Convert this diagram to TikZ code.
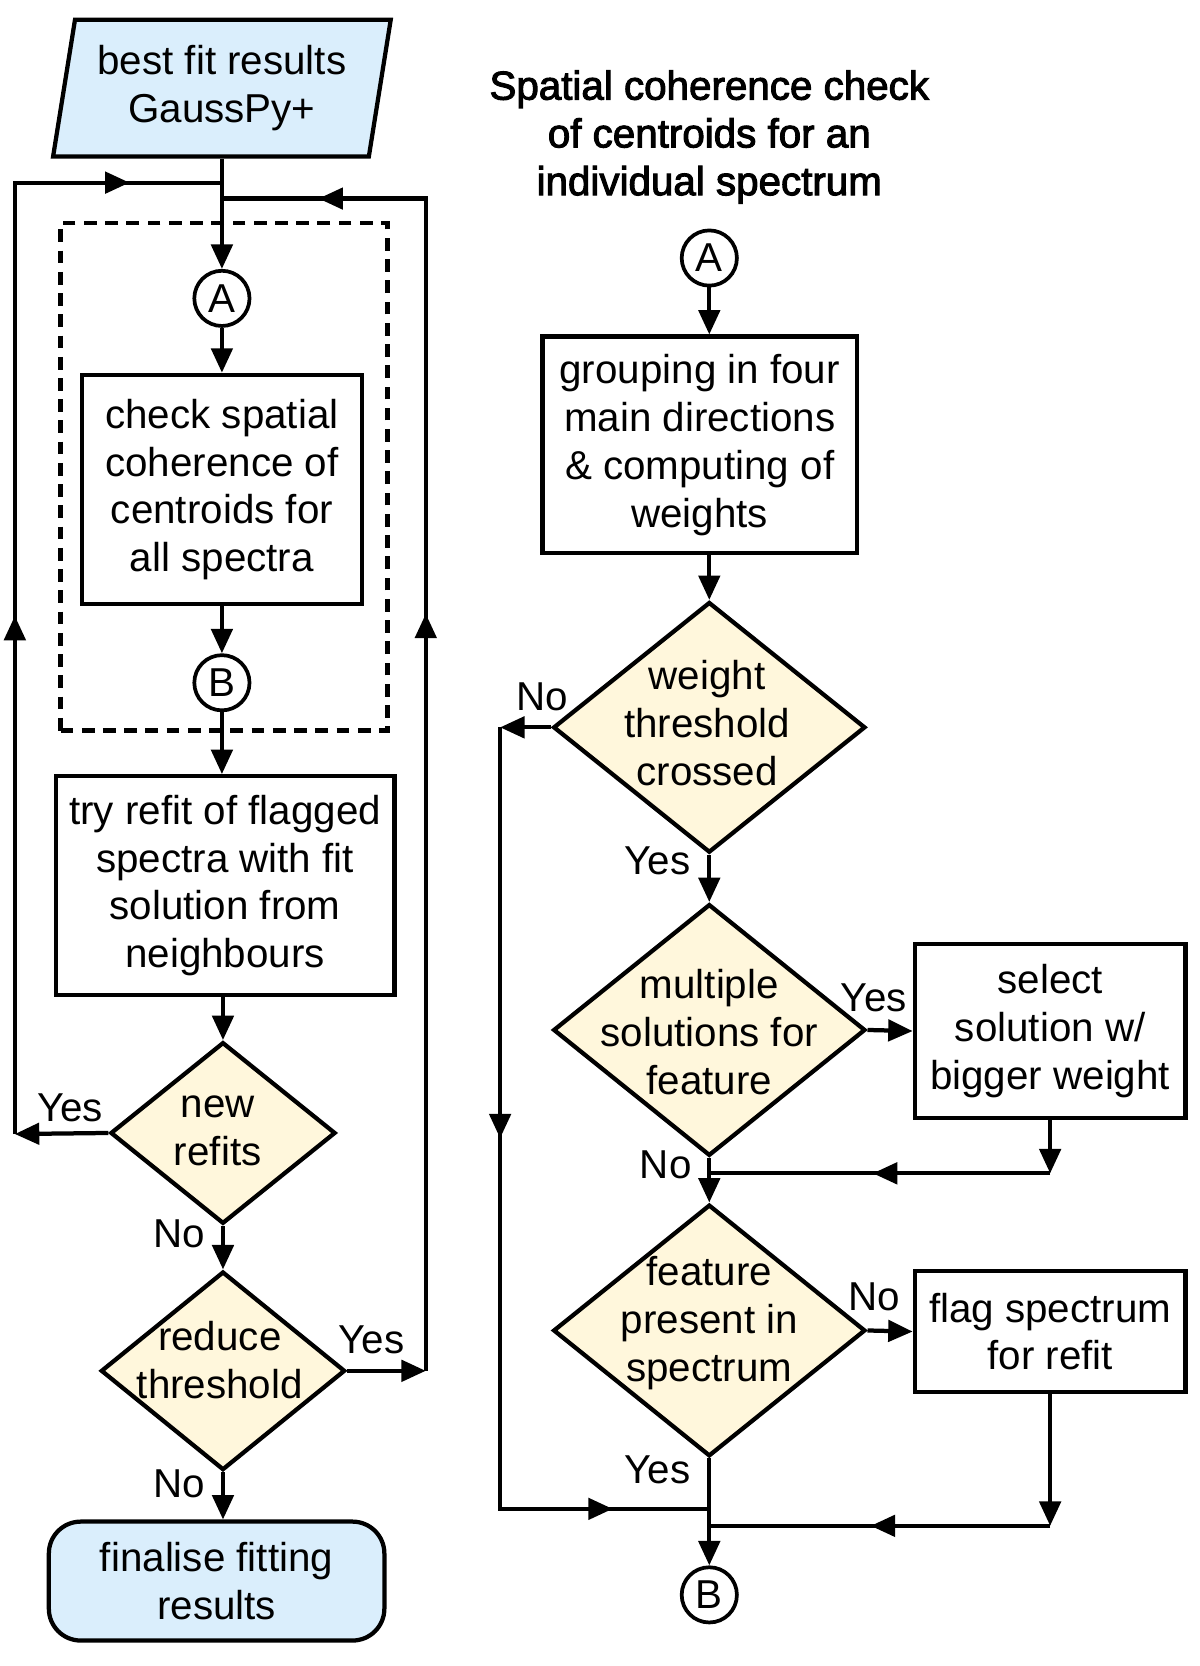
\documentclass[tikz,border=0pt]{standalone}
\usepackage{fontspec}
\setmainfont{Liberation Sans}
\newfontfamily\titlefont[FakeBold=2.5]{Liberation Sans}
\usetikzlibrary{shapes.geometric,arrows.meta,decorations.markings}

\definecolor{ioblue}{RGB}{218,238,252}
\definecolor{decyellow}{RGB}{255,247,220}

\begin{document}
\begin{tikzpicture}
[x=1pt,y=-1pt,line width=4pt,%
  >={Triangle[length=23pt,width=20pt]},%
  every node/.style={font=\fontsize{38}{45}\selectfont,align=center,inner sep=0pt},%
  block/.style={draw,rectangle},%
  decision/.style={draw,diamond,fill=decyellow,aspect=1.25},%
  io/.style={draw,trapezium,fill=ioblue,trapezium left angle=75.6,%
    trapezium right angle=104.4,trapezium stretches body=true},%
  terminal/.style={draw,rectangle,rounded corners=30pt,fill=ioblue},%
  connector/.style={draw,circle,line width=3.5pt,minimum size=52pt},%
  midarr/.style={postaction={decorate},%
    decoration={markings,mark=at position #1 with {\arrow{>}}}},%
  midarrs/.style 2 args={postaction={decorate},%
    decoration={markings,mark=at position #1 with {\arrow{>}},%
      mark=at position #2 with {\arrow{>}}}}]
\useasboundingbox (0,0) rectangle (1130,1569);

% left column: iteration over all spectra
\node[io,minimum width=318pt,minimum height=129pt] (gauss) at (209,83)
  {best fit results\\GaussPy+};
\node[draw,dash pattern=on 12pt off 8pt,minimum width=308pt,%
  minimum height=478pt] (group) at (211,449) {};
\node[connector] (la) at (209,281) {A};
\node[block,minimum width=264pt,minimum height=216pt] (check) at (209,461)
  {check spatial\\coherence of\\centroids for\\all spectra};
\node[connector] (lb) at (209,643) {B};
\node[block,minimum width=319pt,minimum height=206pt] (refit) at (212,834)
  {try refit of flagged\\spectra with fit\\solution from\\neighbours};
\node[decision,minimum width=212pt,minimum height=171pt] (newref) at (210,1067) {};
\node (newref-t) at (205,1065) {new\\refits};
\node[decision,minimum width=230pt,minimum height=187pt] (reduce) at (210,1291) {};
\node (reduce-t) at (207,1281) {reduce\\threshold};
\node[terminal,minimum width=316pt,minimum height=112pt] (final) at (204,1489)
  {finalise fitting\\results};

\node (yes1) at (66,1043) {Yes};
\node (no1) at (169,1162) {No};
\node (yes2) at (350,1262) {Yes};
\node (no2) at (169,1397) {No};

\coordinate (lbot) at (14,1068);
\coordinate (ltop) at (14,172);
\coordinate (ljoin) at (209,172);
\coordinate (rbot) at (401,1291);
\coordinate (rtop) at (401,187);
\coordinate (rjoin) at (209,187);

\draw[->] (gauss.south -| la) -- (la.north);
\draw[->] (la) -- (check);
\draw[->] (check) -- (lb);
\draw[->] (lb.south) -- (lb.south |- refit.north);
\draw[->] (refit.south -| newref) -- (newref.north);
\draw[->] (newref.west) -- (lbot);
\draw[midarrs={488pt}{1004pt}] (lbot) -- (ltop) -- (ljoin);
\draw[->] (newref) -- (reduce);
\draw[->] (reduce.east) -- (rbot);
\draw[midarrs={713pt}{1205pt}] (rbot) -- (rtop) -- (rjoin);
\draw[->] (reduce.south) -- (reduce.south |- final.north);

% right column: one spectrum
\node[font=\titlefont\fontsize{38}{45}\selectfont] (title) at (668,129)
  {Spatial coherence check\\of centroids for an\\individual spectrum};
\node[connector] (ra) at (668,243) {A};
\node[block,minimum width=296pt,minimum height=204pt] (grp) at (659,419)
  {grouping in four\\main directions\\\& computing of\\weights};
\node[decision,minimum width=294pt,minimum height=236pt] (wt) at (668,685) {};
\node (wt-t) at (666,681) {weight\\threshold\\crossed};
\node[decision,minimum width=294pt,minimum height=237pt] (multi) at (668,970) {};
\node (multi-t) at (668,972) {multiple\\solutions for\\feature};
\node[block,minimum width=255pt,minimum height=164pt] (select) at (989,971)
  {select\\solution w/\\bigger weight};
\node[decision,minimum width=294pt,minimum height=237pt] (feat) at (668,1253) {};
\node (feat-t) at (668,1246) {feature\\present in\\spectrum};
\node[block,minimum width=255pt,minimum height=114pt] (flag) at (989,1254)
  {flag spectrum\\for refit};
\node[connector] (rb) at (668,1502) {B};

\node (no3) at (511,656) {No};
\node (yes3) at (619,811) {Yes};
\node (yes4) at (823,940) {Yes};
\node (no4) at (627,1097) {No};
\node (no5) at (823,1221) {No};
\node (yes5) at (619,1384) {Yes};

\coordinate (wno) at (471,685);
\coordinate (wbot) at (471,1421);
\coordinate (wjoin) at (668,1421);
\coordinate (sbot) at (989,1105);
\coordinate (sjoin) at (668,1105);
\coordinate (fbot) at (989,1437);
\coordinate (fjoin) at (668,1437);

\draw[->] (ra.south) -- (ra.south |- grp.north);
\draw[->] (grp.south -| wt) -- (wt.north);
\draw[->] (wt.west) -- (wno);
\draw[midarrs={387pt}{842pt}] (wno) -- (wbot) -- (wjoin);
\draw[->] (wt.south) -- (multi.north);
\draw[->] (multi.east) -- (select.west);
\draw[->] (select.south) -- (sbot);
\draw[midarr=167pt] (sbot) -- (sjoin);
\draw[->] (multi.south) -- (feat.north);
\draw[->] (feat.east) -- (flag.west);
\draw[->] (flag.south) -- (fbot);
\draw[midarr=169pt] (fbot) -- (fjoin);
\draw[->] (feat.south) -- (rb.north);
\end{tikzpicture}
\end{document}
